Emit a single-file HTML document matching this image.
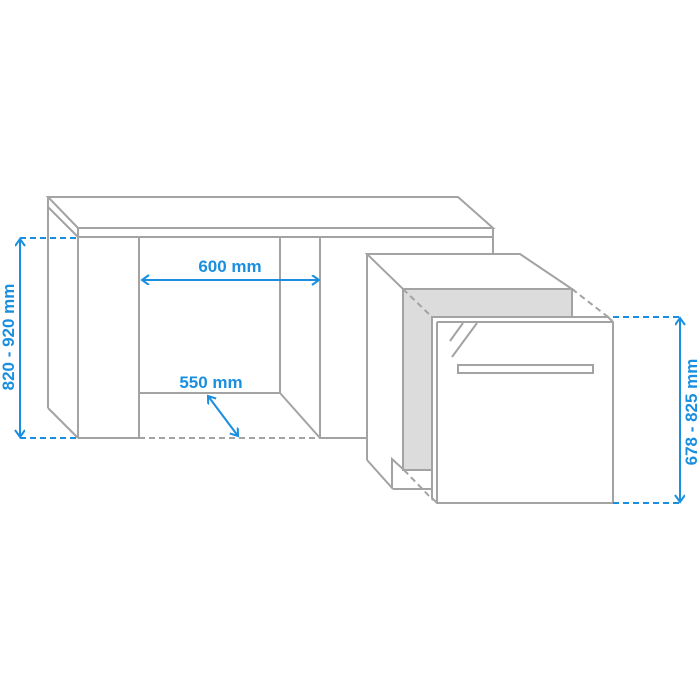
<!DOCTYPE html>
<html><head><style>body{margin:0;background:#fff}svg{display:block}</style></head><body>
<svg width="700" height="700" viewBox="0 0 700 700" xmlns="http://www.w3.org/2000/svg">
<defs>
<marker id="a" markerWidth="12" markerHeight="12" refX="9" refY="5" orient="auto-start-reverse" markerUnits="userSpaceOnUse"><path d="M2,0 L9,5 L2,10" fill="none" stroke="#1a8fe0" stroke-width="2"/></marker>
</defs>
<g fill="none" stroke="#a3a3a3" stroke-width="2">
<polyline points="78,228 48,197 458,197 493,228 78,228"/>
<line x1="48" y1="197" x2="48" y2="408"/>
<line x1="48" y1="408" x2="78" y2="438"/>
<line x1="48" y1="207" x2="78" y2="237"/>
<line x1="78" y1="228" x2="78" y2="438"/>
<line x1="78" y1="237" x2="493" y2="237"/>
<line x1="493" y1="228" x2="493" y2="256"/>
<line x1="139" y1="237" x2="139" y2="438"/>
<line x1="280" y1="237" x2="280" y2="393"/>
<line x1="320" y1="237" x2="320" y2="438"/>
<line x1="139" y1="393" x2="280" y2="393"/>
<line x1="280" y1="393" x2="320" y2="438"/>
<line x1="78" y1="438" x2="139" y2="438"/>
<line x1="139" y1="438" x2="320" y2="438" stroke-dasharray="6,4"/>
<line x1="320" y1="438" x2="366" y2="438"/>
</g>
<rect x="403" y="289" width="169" height="181" fill="#dcdcdc" stroke="#a3a3a3" stroke-width="2"/>
<g fill="none" stroke="#a3a3a3" stroke-width="2">
<polygon points="367,254 520,254 572,289 403,289" fill="#fff"/>
<line x1="367" y1="254" x2="367" y2="460"/>
<line x1="367" y1="460" x2="393" y2="489"/>
<line x1="393" y1="489" x2="433" y2="489"/>
<polyline points="392,488 392,459 404,470"/>
<line x1="572" y1="289" x2="612" y2="320" stroke-dasharray="6,4"/>
<line x1="403" y1="289" x2="433" y2="318" stroke-dasharray="6,4"/>
<line x1="404" y1="470" x2="433" y2="500" stroke-dasharray="6,4"/>
<polygon points="432,317 608,317 613,322 613,503 437,503 432,498" fill="#fff"/>
<line x1="437" y1="322" x2="437" y2="503"/>
<line x1="437" y1="322" x2="613" y2="322"/>
<rect x="458" y="365" width="135" height="8"/>
<line x1="452" y1="357" x2="477" y2="323"/>
<line x1="450" y1="341" x2="463" y2="323"/>
</g>
<g stroke="#1a8fe0" stroke-width="2" fill="none">
<line x1="20" y1="238" x2="78" y2="238" stroke-dasharray="6,4"/>
<line x1="20" y1="438" x2="78" y2="438" stroke-dasharray="6,4"/>
<line x1="20" y1="239" x2="20" y2="437" marker-start="url(#a)" marker-end="url(#a)"/>
<line x1="613" y1="317" x2="680" y2="317" stroke-dasharray="6,4"/>
<line x1="613" y1="503" x2="680" y2="503" stroke-dasharray="6,4"/>
<line x1="680" y1="318" x2="680" y2="502" marker-start="url(#a)" marker-end="url(#a)"/>
<line x1="142" y1="280" x2="319" y2="280" marker-start="url(#a)" marker-end="url(#a)"/>
<line x1="208" y1="396" x2="238" y2="436" marker-start="url(#a)" marker-end="url(#a)"/>
</g>
<g fill="#1a8fe0" font-family="Liberation Sans, sans-serif" font-weight="bold" font-size="17">
<text x="230" y="272" text-anchor="middle">600 mm</text>
<text x="211" y="388" text-anchor="middle">550 mm</text>
<text transform="translate(14,337) rotate(-90)" text-anchor="middle">820 - 920 mm</text>
<text transform="translate(697,412) rotate(-90)" text-anchor="middle">678 - 825 mm</text>
</g>
</svg>
</body></html>
